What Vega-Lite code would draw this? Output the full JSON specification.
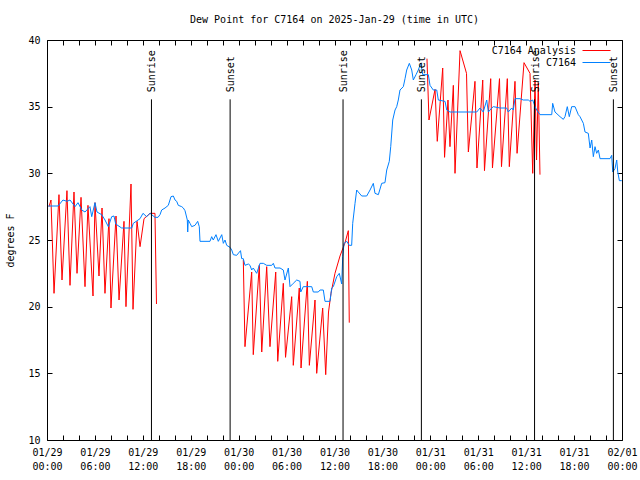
{
  "$schema": "https://vega.github.io/schema/vega-lite/v6.json",
  "width": 575,
  "height": 400,
  "autosize": {"type": "none"},
  "padding": {"left": 47, "top": 40, "right": 18, "bottom": 40},
  "background": "white",
  "title": {"text": "Dew Point for C7164 on 2025-Jan-29 (time in UTC)", "fontSize": 10, "fontWeight": "normal", "font": "DejaVu Sans Mono", "offset": 10, "color": "black"},
  "config": {
    "font": "DejaVu Sans Mono",
    "view": {"stroke": "black", "strokeWidth": 1},
    "axis": {"domain": false, "grid": false, "tickColor": "black", "tickSize": -5, "labelColor": "black", "titleColor": "black", "labelFontSize": 10, "titleFontSize": 10, "titleFontWeight": "normal", "labelFont": "DejaVu Sans Mono", "titleFont": "DejaVu Sans Mono", "labelLineHeight": 14},
    "legend": {"orient": "none", "title": null, "symbolType": "stroke", "symbolSize": 784, "symbolStrokeWidth": 1, "labelAlign": "right", "labelOffset": -35, "labelFontSize": 10, "labelFont": "DejaVu Sans Mono", "labelColor": "black", "padding": 0, "labelLimit": 300}
  },
  "datasets": {
    "obs": [
      {"h":0.16,"v":27.55},{"h":1.38,"v":27.55},{"h":2.0,"v":28.0},{"h":2.5,"v":27.9},{"h":2.88,"v":28.0},{"h":3.26,"v":27.7},{"h":3.51,"v":27.5},{"h":3.88,"v":27.8},{"h":4.35,"v":27.25},{"h":4.76,"v":27.1},{"h":5.38,"v":27.5},{"h":5.6,"v":26.75},{"h":6.01,"v":27.8},{"h":6.26,"v":27.1},{"h":6.85,"v":26.9},{"h":7.26,"v":26.5},{"h":7.68,"v":26.0},{"h":8.1,"v":26.75},{"h":8.39,"v":26.8},{"h":8.6,"v":26.2},{"h":9.35,"v":25.9},{"h":10.61,"v":25.9},{"h":10.81,"v":26.25},{"h":11.65,"v":26.6},{"h":12.02,"v":27.0},{"h":12.48,"v":26.75},{"h":12.9,"v":27.0},{"h":13.52,"v":26.7},{"h":13.9,"v":26.7},{"h":14.15,"v":26.9},{"h":14.36,"v":27.25},{"h":14.78,"v":27.4},{"h":15.19,"v":27.6},{"h":15.53,"v":28.25},{"h":15.82,"v":28.3},{"h":16.03,"v":28.0},{"h":16.24,"v":27.9},{"h":16.44,"v":27.6},{"h":16.87,"v":27.5},{"h":17.07,"v":27.4},{"h":17.28,"v":27.2},{"h":17.57,"v":26.5},{"h":17.62,"v":25.6},{"h":17.69,"v":26.5},{"h":17.91,"v":26.25},{"h":18.12,"v":26.0},{"h":18.53,"v":26.1},{"h":18.87,"v":26.4},{"h":19.07,"v":26.0},{"h":19.16,"v":24.9},{"h":20.41,"v":24.9},{"h":20.62,"v":25.25},{"h":20.82,"v":25.0},{"h":21.16,"v":25.4},{"h":21.45,"v":24.9},{"h":21.88,"v":25.4},{"h":22.08,"v":24.75},{"h":22.29,"v":25.0},{"h":22.5,"v":24.6},{"h":22.92,"v":24.45},{"h":23.13,"v":24.25},{"h":23.33,"v":23.9},{"h":23.75,"v":23.85},{"h":24.23,"v":24.2},{"h":24.38,"v":23.6},{"h":24.58,"v":23.6},{"h":24.79,"v":23.1},{"h":25.21,"v":23.2},{"h":25.42,"v":23.1},{"h":25.63,"v":22.75},{"h":25.83,"v":22.9},{"h":26.26,"v":22.5},{"h":26.67,"v":23.25},{"h":27.09,"v":23.25},{"h":27.51,"v":23.1},{"h":28.14,"v":23.1},{"h":28.34,"v":23.25},{"h":28.55,"v":22.9},{"h":29.18,"v":22.9},{"h":29.59,"v":22.75},{"h":29.8,"v":22.0},{"h":30.22,"v":22.9},{"h":30.43,"v":21.5},{"h":30.84,"v":21.75},{"h":31.27,"v":22.0},{"h":31.68,"v":21.9},{"h":31.77,"v":21.1},{"h":32.09,"v":21.5},{"h":33.15,"v":21.5},{"h":33.35,"v":21.1},{"h":33.97,"v":21.1},{"h":34.19,"v":21.25},{"h":34.6,"v":21.25},{"h":34.81,"v":20.4},{"h":35.44,"v":20.4},{"h":35.65,"v":21.4},{"h":35.85,"v":21.5},{"h":36.28,"v":22.25},{"h":36.6,"v":22.5},{"h":36.9,"v":21.7},{"h":37.03,"v":23.75},{"h":37.19,"v":24.75},{"h":37.53,"v":24.9},{"h":37.85,"v":24.6},{"h":38.15,"v":24.6},{"h":38.28,"v":26.25},{"h":38.57,"v":27.75},{"h":38.78,"v":28.75},{"h":38.98,"v":28.6},{"h":39.41,"v":28.3},{"h":40.03,"v":28.3},{"h":40.45,"v":28.75},{"h":40.86,"v":29.25},{"h":41.07,"v":28.5},{"h":41.49,"v":28.4},{"h":41.91,"v":29.25},{"h":42.32,"v":29.3},{"h":42.54,"v":30.25},{"h":42.86,"v":30.9},{"h":43.04,"v":32.0},{"h":43.29,"v":34.0},{"h":43.58,"v":34.75},{"h":43.79,"v":35.0},{"h":43.99,"v":35.5},{"h":44.2,"v":36.25},{"h":44.62,"v":36.5},{"h":44.83,"v":37.1},{"h":45.04,"v":37.75},{"h":45.37,"v":38.25},{"h":45.67,"v":37.75},{"h":45.87,"v":37.0},{"h":46.21,"v":37.4},{"h":46.49,"v":37.75},{"h":46.8,"v":38.25},{"h":47.05,"v":37.4},{"h":47.75,"v":37.4},{"h":47.96,"v":36.6},{"h":48.37,"v":36.25},{"h":48.8,"v":36.25},{"h":49.0,"v":35.5},{"h":49.84,"v":35.4},{"h":50.05,"v":34.75},{"h":50.46,"v":34.6},{"h":52.97,"v":34.6},{"h":53.81,"v":34.6},{"h":54.22,"v":34.9},{"h":54.63,"v":34.6},{"h":55.06,"v":35.5},{"h":55.26,"v":34.6},{"h":55.69,"v":34.9},{"h":55.89,"v":35.0},{"h":56.73,"v":34.9},{"h":57.56,"v":34.9},{"h":57.76,"v":34.6},{"h":58.19,"v":34.9},{"h":58.39,"v":34.75},{"h":58.6,"v":35.6},{"h":59.23,"v":35.6},{"h":59.64,"v":35.5},{"h":60.27,"v":35.5},{"h":60.48,"v":35.4},{"h":60.82,"v":35.5},{"h":61.11,"v":35.0},{"h":61.32,"v":34.75},{"h":61.73,"v":34.4},{"h":63.2,"v":34.4},{"h":63.32,"v":35.25},{"h":63.61,"v":34.6},{"h":64.24,"v":34.25},{"h":64.65,"v":34.05},{"h":64.86,"v":34.25},{"h":65.15,"v":35.0},{"h":65.4,"v":34.25},{"h":65.7,"v":35.0},{"h":66.12,"v":35.0},{"h":66.53,"v":34.4},{"h":66.74,"v":34.25},{"h":67.16,"v":33.75},{"h":67.37,"v":33.1},{"h":67.78,"v":33.0},{"h":68.0,"v":31.9},{"h":68.21,"v":32.5},{"h":68.41,"v":31.25},{"h":68.62,"v":32.0},{"h":68.83,"v":31.5},{"h":69.04,"v":31.75},{"h":69.25,"v":31.1},{"h":70.5,"v":31.1},{"h":70.71,"v":31.35},{"h":70.84,"v":30.1},{"h":71.12,"v":30.35},{"h":71.34,"v":31.0},{"h":71.47,"v":30.1},{"h":71.67,"v":29.45},{"h":71.97,"v":29.45}
    ],
    "analysis": [
      {"seg":"a","h":0.25,"v":27.5},{"seg":"a","h":0.5,"v":28.0},{"seg":"a","h":0.88,"v":21.0},{"seg":"a","h":1.5,"v":28.4},{"seg":"a","h":1.88,"v":22.0},{"seg":"a","h":2.5,"v":28.7},{"seg":"a","h":2.88,"v":21.6},{"seg":"a","h":3.38,"v":28.6},{"seg":"a","h":3.76,"v":22.5},{"seg":"a","h":4.26,"v":28.2},{"seg":"a","h":4.76,"v":21.5},{"seg":"a","h":5.13,"v":27.6},{"seg":"a","h":5.76,"v":20.8},{"seg":"a","h":6.01,"v":27.8},{"seg":"a","h":6.51,"v":22.3},{"seg":"a","h":6.89,"v":27.4},{"seg":"a","h":7.26,"v":21.0},{"seg":"a","h":7.76,"v":26.6},{"seg":"a","h":8.01,"v":19.9},{"seg":"a","h":8.64,"v":26.8},{"seg":"a","h":9.02,"v":20.5},{"seg":"a","h":9.64,"v":26.4},{"seg":"a","h":9.89,"v":20.0},{"seg":"a","h":10.52,"v":29.2},{"seg":"a","h":10.77,"v":19.8},{"seg":"a","h":11.27,"v":26.4},{"seg":"a","h":11.65,"v":24.5},{"seg":"a","h":12.15,"v":26.6},{"seg":"a","h":12.9,"v":27.0},{"seg":"a","h":13.52,"v":27.0},{"seg":"a","h":13.71,"v":20.2},
      {"seg":"b","h":24.58,"v":23.5},{"seg":"b","h":24.79,"v":17.0},{"seg":"b","h":25.63,"v":22.6},{"seg":"b","h":25.83,"v":16.4},{"seg":"b","h":26.58,"v":23.1},{"seg":"b","h":26.89,"v":16.6},{"seg":"b","h":27.51,"v":23.0},{"seg":"b","h":27.92,"v":17.0},{"seg":"b","h":28.64,"v":22.6},{"seg":"b","h":28.89,"v":15.9},{"seg":"b","h":29.59,"v":21.75},{"seg":"b","h":29.87,"v":16.2},{"seg":"b","h":30.64,"v":20.75},{"seg":"b","h":30.84,"v":15.6},{"seg":"b","h":31.59,"v":21.4},{"seg":"b","h":31.81,"v":15.4},{"seg":"b","h":32.6,"v":21.9},{"seg":"b","h":32.85,"v":15.6},{"seg":"b","h":33.56,"v":20.5},{"seg":"b","h":33.77,"v":15.0},{"seg":"b","h":34.52,"v":19.9},{"seg":"b","h":34.9,"v":14.9},{"seg":"b","h":35.25,"v":19.6},{"seg":"b","h":35.56,"v":21.0},{"seg":"b","h":36.06,"v":22.5},{"seg":"b","h":36.69,"v":23.8},{"seg":"b","h":37.32,"v":24.8},{"seg":"b","h":37.73,"v":25.7},{"seg":"b","h":37.85,"v":18.8},
      {"seg":"c","h":47.58,"v":38.6},{"seg":"c","h":47.83,"v":34.0},{"seg":"c","h":48.59,"v":36.3},{"seg":"c","h":48.87,"v":32.4},{"seg":"c","h":49.55,"v":37.9},{"seg":"c","h":49.78,"v":31.2},{"seg":"c","h":50.21,"v":35.5},{"seg":"c","h":50.46,"v":32.0},{"seg":"c","h":50.88,"v":36.6},{"seg":"c","h":51.09,"v":30.0},{"seg":"c","h":51.72,"v":39.2},{"seg":"c","h":52.53,"v":37.5},{"seg":"c","h":52.76,"v":31.6},{"seg":"c","h":53.59,"v":36.9},{"seg":"c","h":53.84,"v":30.4},{"seg":"c","h":54.56,"v":37.0},{"seg":"c","h":54.78,"v":30.2},{"seg":"c","h":55.56,"v":37.1},{"seg":"c","h":55.78,"v":30.4},{"seg":"c","h":56.66,"v":37.1},{"seg":"c","h":56.91,"v":30.5},{"seg":"c","h":57.64,"v":37.1},{"seg":"c","h":57.89,"v":30.5},{"seg":"c","h":58.6,"v":36.9},{"seg":"c","h":58.86,"v":31.5},{"seg":"c","h":59.73,"v":38.3},{"seg":"c","h":60.48,"v":37.5},{"seg":"c","h":60.82,"v":30.0},{"seg":"c","h":61.11,"v":37.0},{"seg":"c","h":61.3,"v":31.0},{"seg":"c","h":61.52,"v":36.8},{"seg":"c","h":61.73,"v":29.9}
    ],
    "sun": [
      {"h":13.08,"label":"Sunrise"},{"h":22.93,"label":"Sunset"},{"h":37.07,"label":"Sunrise"},{"h":46.88,"label":"Sunset"},{"h":61.05,"label":"Sunrise"},{"h":70.92,"label":"Sunset"}
    ]
  },
  "layer": [
    {
      "data": {"name": "analysis"},
      "mark": {"type": "line", "strokeWidth": 1},
      "encoding": {
        "x": {"field": "h", "type": "quantitative", "scale": {"domain": [0, 72], "nice": false, "zero": false},
          "axis": {"orient": "bottom", "title": null, "values": [0,2,4,6,8,10,12,14,16,18,20,22,24,26,28,30,32,34,36,38,40,42,44,46,48,50,52,54,56,58,60,62,64,66,68,70,72],
            "labelExpr": "datum.value % 6 === 0 ? [datum.value >= 72 ? '02/01' : '01/' + (29 + floor(datum.value / 24)), (datum.value % 24 < 10 ? '0' : '') + (datum.value % 24) + ':00'] : ''",
            "labelPadding": 12, "labelLineHeight": 14, "labelFlush": false, "labelOverlap": false}},
        "y": {"field": "v", "type": "quantitative", "scale": {"domain": [10, 40], "nice": false, "zero": false},
          "axis": {"orient": "left", "title": "degrees F", "values": [10,15,20,25,30,35,40], "labelPadding": 12, "titlePadding": 12}},
        "color": {"datum": "C7164 Analysis", "type": "nominal",
          "scale": {"domain": ["C7164 Analysis"], "range": ["#ff0000"]},
          "legend": {"orient": "none", "legendX": 535, "legendY": -4}},
        "detail": {"field": "seg"}
      }
    },
    {
      "data": {"name": "obs"},
      "mark": {"type": "line", "strokeWidth": 1},
      "encoding": {
        "x": {"field": "h", "type": "quantitative", "axis": {"orient": "top", "title": null, "labels": false, "values": [0,2,4,6,8,10,12,14,16,18,20,22,24,26,28,30,32,34,36,38,40,42,44,46,48,50,52,54,56,58,60,62,64,66,68,70,72]}},
        "y": {"field": "v", "type": "quantitative", "axis": {"orient": "right", "title": null, "labels": false, "values": [10,15,20,25,30,35,40]}},
        "stroke": {"datum": "C7164", "type": "nominal",
          "scale": {"domain": ["C7164"], "range": ["#0080ff"]},
          "legend": {"orient": "none", "legendX": 535, "legendY": 8}}
      }
    },
    {
      "data": {"name": "sun"},
      "mark": {"type": "rule", "color": "black", "strokeWidth": 1},
      "encoding": {
        "x": {"field": "h", "type": "quantitative", "axis": null},
        "y": {"datum": 10, "type": "quantitative", "axis": null},
        "y2": {"datum": 35.55}
      }
    },
    {
      "data": {"name": "sun"},
      "mark": {"type": "text", "angle": 270, "align": "left", "baseline": "middle", "dx": 7, "dy": 1, "fontSize": 10, "font": "DejaVu Sans Mono", "color": "black"},
      "encoding": {
        "x": {"field": "h", "type": "quantitative", "axis": null},
        "y": {"datum": 35.55, "type": "quantitative", "axis": null},
        "text": {"field": "label"}
      }
    }
  ],
  "resolve": {"axis": {"x": "independent", "y": "independent"}}
}
